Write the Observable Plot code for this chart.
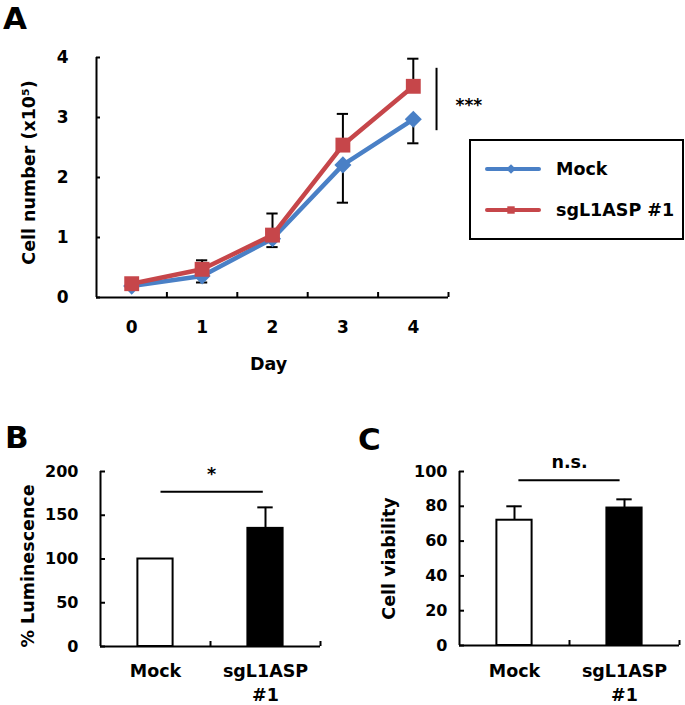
<!DOCTYPE html>
<html>
<head>
<meta charset="utf-8">
<script src="https://cdn.jsdelivr.net/npm/d3@7"></script>
<script src="https://cdn.jsdelivr.net/npm/@observablehq/plot@0.6"></script>
<style>
  body { margin: 0; background: #fff; }
  #root { position: relative; width: 685px; height: 705px; background: #fff;
          font-family: "DejaVu Sans", sans-serif; font-weight: bold; }
  .panel { position: absolute; }
  .overlay { position: absolute; left: 0; top: 0; }
</style>
</head>
<body>
<div id="root"></div>
<script>
// ---------- data ----------
// Panel A: cell growth
const days = [0, 1, 2, 3, 4];
const mockMean = [0.19, 0.36, 0.98, 2.21, 2.97];
const mockErr  = [0.02, 0.11, 0.14, 0.63, 0.40];
const sgMean   = [0.23, 0.47, 1.04, 2.54, 3.52];
const sgErr    = [0.02, 0.15, 0.36, 0.52, 0.46];
const growthYTicks = [0, 1, 2, 3, 4];
const seriesNames = ["Mock", "sgL1ASP #1"];
const sigA = [4.33, 2.78, 3.82]; // x, y1, y2 of bracket
const sigAText = [4.6, 3.2];

// Panel B: luminescence
const groups = ["Mock", "sgL1ASP\n#1"];
const lumMean = [100, 135];
const lumErr  = [0, 24];
const lumTicks = [0, 50, 100, 150, 200];
const sigB = [0.05, 0.98, 177];
const sigBText = [0.51, 197];

// Panel C: viability
const viaMean = [72, 79];
const viaErr  = [8, 5];
const viaTicks = [0, 20, 40, 60, 80, 100];
const sigC = [0.04, 0.96, 95];
const sigCText = [0.5, 105];

const sigLabels = ["***", "*", "n.s."];
const axisTitles = ["Cell number (x10\u2075)", "Day", "% Luminescence", "Cell viability"];
const panelLetters = ["A", "B", "C"];

// ---------- styles ----------
const blue = "#4A80C6";
const red = "#C6464A";
const FONT = "DejaVu Sans";
const baseStyle = {fontFamily: FONT, fontWeight: "bold", color: "#000", background: "transparent", overflow: "visible"};

const root = document.getElementById("root");
function place(node, left, top, w) {
  const d = document.createElement("div");
  d.className = "panel";
  d.style.left = left + "px";
  d.style.top = top + "px";
  d.style.width = w + "px";
  d.appendChild(node);
  root.appendChild(d);
}

// ---------- Panel A ----------
const mockRows = days.map((d, i) => ({day: d, v: mockMean[i], e: mockErr[i]}));
const sgRows = days.map((d, i) => ({day: d, v: sgMean[i], e: sgErr[i]}));
const capA = 0.08;

const plotA = Plot.plot({
  width: 685, height: 390,
  marginLeft: 96, marginRight: 237, marginTop: 57, marginBottom: 93,
  style: baseStyle,
  x: {type: "linear", domain: [-0.5, 4.5], label: null},
  y: {type: "linear", domain: [0, 4], label: null},
  marks: [
    Plot.ruleX([-0.5], {stroke: "#000", strokeWidth: 2}),
    Plot.ruleY([0], {stroke: "#000", strokeWidth: 2}),
    Plot.axisY(growthYTicks, {anchor: "left", label: null, tickSize: -4, tickFormat: () => "", strokeWidth: 2}),
    Plot.axisY(growthYTicks, {anchor: "left", label: null, tickSize: 0, tickPadding: 28, fontSize: 17, tickFormat: d => String(d)}),
    Plot.axisX(days.map(d => d + 0.5), {anchor: "bottom", label: null, tickSize: -5, tickFormat: () => "", strokeWidth: 2}),
    Plot.axisX(days, {anchor: "bottom", label: null, tickSize: 0, tickPadding: 23, fontSize: 17, tickFormat: d => String(d)}),
    // error bars: mock downward, sg upward
    Plot.ruleX(mockRows, {x: "day", y1: d => d.v - d.e, y2: "v", stroke: "#000", strokeWidth: 2}),
    Plot.ruleY(mockRows, {y: d => d.v - d.e, x1: d => d.day - capA, x2: d => d.day + capA, stroke: "#000", strokeWidth: 2}),
    Plot.ruleX(sgRows, {x: "day", y1: "v", y2: d => d.v + d.e, stroke: "#000", strokeWidth: 2}),
    Plot.ruleY(sgRows, {y: d => d.v + d.e, x1: d => d.day - capA, x2: d => d.day + capA, stroke: "#000", strokeWidth: 2}),
    // series
    Plot.line(mockRows, {x: "day", y: "v", stroke: blue, strokeWidth: 4.5}),
    Plot.dot(mockRows, {x: "day", y: "v", symbol: d3.symbolDiamond2, r: 7.7, fill: blue, stroke: "none"}),
    Plot.line(sgRows, {x: "day", y: "v", stroke: red, strokeWidth: 4.5}),
    Plot.dot(sgRows, {x: "day", y: "v", symbol: d3.symbolSquare, r: 8.4, fill: red, stroke: "none"}),
    // significance
    Plot.ruleX([sigA], {x: d => d[0], y1: d => d[1], y2: d => d[2], stroke: "#000", strokeWidth: 2}),
    Plot.text([sigAText], {x: d => d[0], y: d => d[1], text: () => sigLabels[0], textAnchor: "start", fontSize: 17}),
    // titles
    Plot.text([axisTitles[0]], {text: d => d, frameAnchor: "left", textAnchor: "middle", rotate: -90, dx: -67, dy: -5, fontSize: 17.5}),
    Plot.text([axisTitles[1]], {text: d => d, frameAnchor: "bottom", textAnchor: "middle", dx: -4, dy: 72, fontSize: 17.5})
  ]
});
place(plotA, 0, 0, 685);

// ---------- Bar panel helper ----------
function barPanel({means, errs, ticks, yMax, sig, sigText, sigLabel, title, width, mL, mR, mT, mB, tickPad, titleDx, titleDy, xPad}) {
  const rows = means.map((v, i) => ({i, v, e: errs[i]}));
  const half = 0.16, cap = 0.07;
  const fills = ["white", "black"];
  return Plot.plot({
    width, height: 285,
    marginLeft: mL, marginRight: mR, marginTop: mT, marginBottom: mB,
    style: baseStyle,
    x: {type: "linear", domain: [-0.5, 1.5], label: null},
    y: {type: "linear", domain: [0, yMax], label: null},
    marks: [
      Plot.rectY(rows, {x1: d => d.i - half, x2: d => d.i + half, y1: 0, y2: "v", fill: d => fills[d.i], stroke: "#000", strokeWidth: 2}),
      Plot.ruleX(rows.filter(d => d.e > 0), {x: "i", y1: "v", y2: d => d.v + d.e, stroke: "#000", strokeWidth: 2}),
      Plot.ruleY(rows.filter(d => d.e > 0), {y: d => d.v + d.e, x1: d => d.i - cap, x2: d => d.i + cap, stroke: "#000", strokeWidth: 2}),
      Plot.ruleX([-0.5], {stroke: "#000", strokeWidth: 2}),
      Plot.ruleY([0], {stroke: "#000", strokeWidth: 2}),
      Plot.axisY(ticks, {anchor: "left", label: null, tickSize: -5, tickFormat: () => "", strokeWidth: 2}),
      Plot.axisY(ticks, {anchor: "left", label: null, tickSize: 0, tickPadding: tickPad, fontSize: 16, tickFormat: d => String(d)}),
      Plot.axisX([0.5, 1.5], {anchor: "bottom", label: null, tickSize: -5, tickFormat: () => "", strokeWidth: 2}),
      Plot.axisX([0, 1], {anchor: "bottom", label: null, tickSize: 0, tickPadding: xPad, fontSize: 17.5, lineHeight: 1.38, tickFormat: i => groups[i]}),
      Plot.ruleY([sig], {y: d => d[2], x1: d => d[0], x2: d => d[1], stroke: "#000", strokeWidth: 2}),
      Plot.text([sigText], {x: d => d[0], y: d => d[1], text: () => sigLabel, fontSize: 17.5}),
      Plot.text([title], {text: d => d, frameAnchor: "left", textAnchor: "middle", rotate: -90, dx: titleDx, dy: titleDy, fontSize: 17.5})
    ]
  });
}

const plotB = barPanel({means: lumMean, errs: lumErr, ticks: lumTicks, yMax: 200, sig: sigB, sigText: sigBText, sigLabel: sigLabels[1],
  title: axisTitles[2], width: 340, mL: 100, mR: 20, mT: 51, mB: 59, tickPad: 22, titleDx: -72, titleDy: 7, xPad: 13});
place(plotB, 0, 420, 340);

const plotC = barPanel({means: viaMean, errs: viaErr, ticks: viaTicks, yMax: 100, sig: sigC, sigText: sigCText, sigLabel: sigLabels[2],
  title: axisTitles[3], width: 345, mL: 119, mR: 6, mT: 51, mB: 60, tickPad: 12, titleDx: -70, titleDy: 0, xPad: 14});
place(plotC, 340, 420, 345);

// ---------- overlay: legend + panel letters ----------
const ov = d3.create("svg").attr("class", "overlay").attr("width", 685).attr("height", 705)
  .style("font-family", FONT).style("font-weight", "bold");
const lg = ov.append("g").attr("transform", "translate(470,140)");
lg.append("rect").attr("width", 213).attr("height", 99).attr("fill", "#fff").attr("stroke", "#000").attr("stroke-width", 2);
const legendItems = [
  {name: seriesNames[0], color: blue, sym: d3.symbolDiamond2, size: 60, y: 29},
  {name: seriesNames[1], color: red, sym: d3.symbolSquare, size: 55, y: 70}
];
legendItems.forEach(it => {
  lg.append("line").attr("x1", 17).attr("x2", 69).attr("y1", it.y).attr("y2", it.y)
    .attr("stroke", it.color).attr("stroke-width", 4).attr("stroke-linecap", "round");
  lg.append("path").attr("d", d3.symbol(it.sym, it.size)()).attr("transform", `translate(41,${it.y})`).attr("fill", it.color);
  lg.append("text").attr("x", 86).attr("y", it.y + 6).attr("font-size", 17.5).text(it.name);
});
const letterPos = [[3, 29], [5, 448], [358, 450]];
panelLetters.forEach((L, i) => {
  ov.append("text").attr("x", letterPos[i][0]).attr("y", letterPos[i][1]).attr("font-size", 31).text(L);
});
root.appendChild(ov.node());
</script>
</body>
</html>
